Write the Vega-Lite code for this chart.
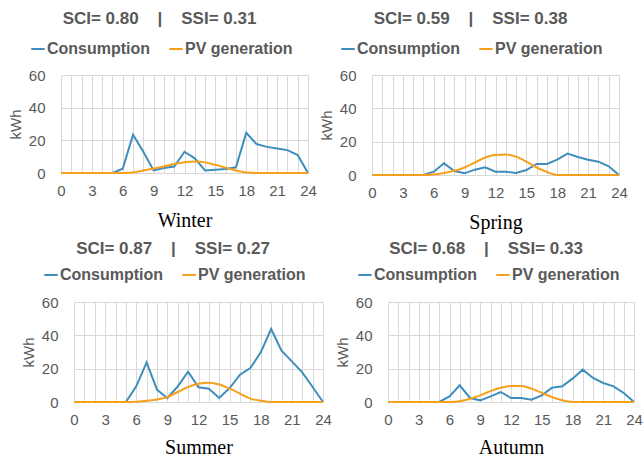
{
  "$schema": "https://vega.github.io/schema/vega-lite/v6.json",
  "background": "white",
  "padding": {"left": 8, "top": 10, "right": 0, "bottom": 0},
  "datasets": {
    "d": [
      {"season":"Winter","hour":0,"Consumption":0,"PV generation":0},
      {"season":"Winter","hour":1,"Consumption":0,"PV generation":0},
      {"season":"Winter","hour":2,"Consumption":0,"PV generation":0},
      {"season":"Winter","hour":3,"Consumption":0,"PV generation":0},
      {"season":"Winter","hour":4,"Consumption":0,"PV generation":0},
      {"season":"Winter","hour":5,"Consumption":0,"PV generation":0},
      {"season":"Winter","hour":6,"Consumption":2.6,"PV generation":0},
      {"season":"Winter","hour":7,"Consumption":23.4,"PV generation":0.3},
      {"season":"Winter","hour":8,"Consumption":13,"PV generation":1.5},
      {"season":"Winter","hour":9,"Consumption":1.6,"PV generation":2.8},
      {"season":"Winter","hour":10,"Consumption":3,"PV generation":4},
      {"season":"Winter","hour":11,"Consumption":4,"PV generation":5.5},
      {"season":"Winter","hour":12,"Consumption":13,"PV generation":6.6},
      {"season":"Winter","hour":13,"Consumption":9,"PV generation":7},
      {"season":"Winter","hour":14,"Consumption":1.5,"PV generation":6.5},
      {"season":"Winter","hour":15,"Consumption":2,"PV generation":5},
      {"season":"Winter","hour":16,"Consumption":2.5,"PV generation":3.3},
      {"season":"Winter","hour":17,"Consumption":3.5,"PV generation":1.5},
      {"season":"Winter","hour":18,"Consumption":24.6,"PV generation":0.3},
      {"season":"Winter","hour":19,"Consumption":17.7,"PV generation":0},
      {"season":"Winter","hour":20,"Consumption":16,"PV generation":0},
      {"season":"Winter","hour":21,"Consumption":15,"PV generation":0},
      {"season":"Winter","hour":22,"Consumption":14,"PV generation":0},
      {"season":"Winter","hour":23,"Consumption":11,"PV generation":0},
      {"season":"Winter","hour":24,"Consumption":0,"PV generation":0},
      {"season":"Spring","hour":0,"Consumption":0,"PV generation":0},
      {"season":"Spring","hour":1,"Consumption":0,"PV generation":0},
      {"season":"Spring","hour":2,"Consumption":0,"PV generation":0},
      {"season":"Spring","hour":3,"Consumption":0,"PV generation":0},
      {"season":"Spring","hour":4,"Consumption":0,"PV generation":0},
      {"season":"Spring","hour":5,"Consumption":0,"PV generation":0},
      {"season":"Spring","hour":6,"Consumption":2,"PV generation":0.3},
      {"season":"Spring","hour":7,"Consumption":7,"PV generation":1.2},
      {"season":"Spring","hour":8,"Consumption":2.4,"PV generation":2.5},
      {"season":"Spring","hour":9,"Consumption":1,"PV generation":4.5},
      {"season":"Spring","hour":10,"Consumption":3.2,"PV generation":7.5},
      {"season":"Spring","hour":11,"Consumption":4.6,"PV generation":10.5},
      {"season":"Spring","hour":12,"Consumption":2,"PV generation":12},
      {"season":"Spring","hour":13,"Consumption":2,"PV generation":12.3},
      {"season":"Spring","hour":14,"Consumption":1.2,"PV generation":11},
      {"season":"Spring","hour":15,"Consumption":3,"PV generation":8},
      {"season":"Spring","hour":16,"Consumption":6.6,"PV generation":4.5},
      {"season":"Spring","hour":17,"Consumption":6.6,"PV generation":1.8},
      {"season":"Spring","hour":18,"Consumption":9.2,"PV generation":0},
      {"season":"Spring","hour":19,"Consumption":12.8,"PV generation":0},
      {"season":"Spring","hour":20,"Consumption":10.8,"PV generation":0},
      {"season":"Spring","hour":21,"Consumption":9.2,"PV generation":0},
      {"season":"Spring","hour":22,"Consumption":8,"PV generation":0},
      {"season":"Spring","hour":23,"Consumption":5.2,"PV generation":0},
      {"season":"Spring","hour":24,"Consumption":0,"PV generation":0},
      {"season":"Summer","hour":0,"Consumption":0,"PV generation":0},
      {"season":"Summer","hour":1,"Consumption":0,"PV generation":0},
      {"season":"Summer","hour":2,"Consumption":0,"PV generation":0},
      {"season":"Summer","hour":3,"Consumption":0,"PV generation":0},
      {"season":"Summer","hour":4,"Consumption":0,"PV generation":0},
      {"season":"Summer","hour":5,"Consumption":0,"PV generation":0},
      {"season":"Summer","hour":6,"Consumption":9.4,"PV generation":0.2},
      {"season":"Summer","hour":7,"Consumption":23.8,"PV generation":0.8},
      {"season":"Summer","hour":8,"Consumption":7.4,"PV generation":1.5},
      {"season":"Summer","hour":9,"Consumption":2.4,"PV generation":3},
      {"season":"Summer","hour":10,"Consumption":9.4,"PV generation":6},
      {"season":"Summer","hour":11,"Consumption":18.2,"PV generation":9},
      {"season":"Summer","hour":12,"Consumption":8.8,"PV generation":11},
      {"season":"Summer","hour":13,"Consumption":8,"PV generation":11.5},
      {"season":"Summer","hour":14,"Consumption":2.4,"PV generation":10.5},
      {"season":"Summer","hour":15,"Consumption":8.4,"PV generation":8},
      {"season":"Summer","hour":16,"Consumption":16.4,"PV generation":5},
      {"season":"Summer","hour":17,"Consumption":20.4,"PV generation":2},
      {"season":"Summer","hour":18,"Consumption":29.8,"PV generation":0.8},
      {"season":"Summer","hour":19,"Consumption":43.8,"PV generation":0},
      {"season":"Summer","hour":20,"Consumption":30.8,"PV generation":0},
      {"season":"Summer","hour":21,"Consumption":24.4,"PV generation":0},
      {"season":"Summer","hour":22,"Consumption":17.8,"PV generation":0},
      {"season":"Summer","hour":23,"Consumption":9,"PV generation":0},
      {"season":"Summer","hour":24,"Consumption":0,"PV generation":0},
      {"season":"Autumn","hour":0,"Consumption":0,"PV generation":0},
      {"season":"Autumn","hour":1,"Consumption":0,"PV generation":0},
      {"season":"Autumn","hour":2,"Consumption":0,"PV generation":0},
      {"season":"Autumn","hour":3,"Consumption":0,"PV generation":0},
      {"season":"Autumn","hour":4,"Consumption":0,"PV generation":0},
      {"season":"Autumn","hour":5,"Consumption":0,"PV generation":0},
      {"season":"Autumn","hour":6,"Consumption":3.4,"PV generation":0},
      {"season":"Autumn","hour":7,"Consumption":10,"PV generation":0.5},
      {"season":"Autumn","hour":8,"Consumption":2.4,"PV generation":2},
      {"season":"Autumn","hour":9,"Consumption":1,"PV generation":4},
      {"season":"Autumn","hour":10,"Consumption":3.4,"PV generation":6.5},
      {"season":"Autumn","hour":11,"Consumption":6,"PV generation":8.5},
      {"season":"Autumn","hour":12,"Consumption":2.4,"PV generation":9.6},
      {"season":"Autumn","hour":13,"Consumption":2.4,"PV generation":9.6},
      {"season":"Autumn","hour":14,"Consumption":1.4,"PV generation":8},
      {"season":"Autumn","hour":15,"Consumption":4,"PV generation":5.5},
      {"season":"Autumn","hour":16,"Consumption":8.6,"PV generation":3},
      {"season":"Autumn","hour":17,"Consumption":9.4,"PV generation":1},
      {"season":"Autumn","hour":18,"Consumption":14,"PV generation":0},
      {"season":"Autumn","hour":19,"Consumption":19.4,"PV generation":0},
      {"season":"Autumn","hour":20,"Consumption":14.4,"PV generation":0},
      {"season":"Autumn","hour":21,"Consumption":11.4,"PV generation":0},
      {"season":"Autumn","hour":22,"Consumption":9.4,"PV generation":0},
      {"season":"Autumn","hour":23,"Consumption":5.4,"PV generation":0},
      {"season":"Autumn","hour":24,"Consumption":0,"PV generation":0}
    ]
  },
  "spacing": 8,
  "vconcat": [
    {
      "spacing": 2,
      "hconcat": [
        {
          "data": {"name": "d"},
          "transform": [{"filter": "datum.season === 'Winter'"}, {"fold": ["Consumption", "PV generation"], "as": ["series", "kWh"]}],
          "title": {"text": "SCI= 0.80\u00a0\u00a0\u00a0\u00a0|\u00a0\u00a0\u00a0\u00a0SSI= 0.31"},
          "width": 247, "height": 98,
          "encoding": {
            "x": {"field": "hour", "type": "quantitative", "scale": {"domain": [0, 24], "nice": false}, "axis": {"title": "Winter", "values": [0,1,2,3,4,5,6,7,8,9,10,11,12,13,14,15,16,17,18,19,20,21,22,23,24], "labelExpr": "datum.value % 3 === 0 ? datum.label : ''"}},
            "y": {"field": "kWh", "type": "quantitative", "scale": {"domain": [0, 60], "nice": false}, "axis": {"title": "kWh", "values": [0, 20, 40, 60]}},
            "color": {"field": "series", "type": "nominal", "scale": {"domain": ["Consumption", "PV generation"], "range": ["#3f8dbd", "#f6a11e"]}, "legend": {"title": null, "orient": "none", "legendX": -31, "legendY": -34}}
          },
          "layer": [
            {"transform": [{"filter": "datum.series === 'Consumption'"}], "mark": {"type": "line", "strokeWidth": 2}},
            {"transform": [{"filter": "datum.series === 'PV generation'"}], "mark": {"type": "line", "strokeWidth": 2, "interpolate": "monotone"}}
          ]
        },
        {
          "data": {"name": "d"},
          "transform": [{"filter": "datum.season === 'Spring'"}, {"fold": ["Consumption", "PV generation"], "as": ["series", "kWh"]}],
          "title": {"text": "SCI= 0.59\u00a0\u00a0\u00a0\u00a0|\u00a0\u00a0\u00a0\u00a0SSI= 0.38"},
          "width": 247, "height": 100,
          "encoding": {
            "x": {"field": "hour", "type": "quantitative", "scale": {"domain": [0, 24], "nice": false}, "axis": {"title": "Spring", "values": [0,1,2,3,4,5,6,7,8,9,10,11,12,13,14,15,16,17,18,19,20,21,22,23,24], "labelExpr": "datum.value % 3 === 0 ? datum.label : ''"}},
            "y": {"field": "kWh", "type": "quantitative", "scale": {"domain": [0, 60], "nice": false}, "axis": {"title": "kWh", "values": [0, 20, 40, 60]}},
            "color": {"field": "series", "type": "nominal", "scale": {"domain": ["Consumption", "PV generation"], "range": ["#3f8dbd", "#f6a11e"]}, "legend": {"title": null, "orient": "none", "legendX": -32, "legendY": -34}}
          },
          "layer": [
            {"transform": [{"filter": "datum.series === 'Consumption'"}], "mark": {"type": "line", "strokeWidth": 2}},
            {"transform": [{"filter": "datum.series === 'PV generation'"}], "mark": {"type": "line", "strokeWidth": 2, "interpolate": "monotone"}}
          ]
        }
      ],
      "resolve": {"scale": {"color": "independent"}, "legend": {"color": "independent"}}
    },
    {
      "spacing": 3,
      "hconcat": [
        {
          "data": {"name": "d"},
          "transform": [{"filter": "datum.season === 'Summer'"}, {"fold": ["Consumption", "PV generation"], "as": ["series", "kWh"]}],
          "title": {"text": "SCI= 0.87\u00a0\u00a0\u00a0\u00a0|\u00a0\u00a0\u00a0\u00a0SSI= 0.27", "offset": 9, "dx": -19},
          "width": 262, "height": 100,
          "encoding": {
            "x": {"field": "hour", "type": "quantitative", "scale": {"domain": [0, 24], "nice": false, "range": [13, 262]}, "axis": {"title": "Summer", "titlePadding": 10, "values": [0,1,2,3,4,5,6,7,8,9,10,11,12,13,14,15,16,17,18,19,20,21,22,23,24], "labelExpr": "datum.value % 3 === 0 ? datum.label : ''"}},
            "y": {"field": "kWh", "type": "quantitative", "scale": {"domain": [0, 60], "nice": false}, "axis": {"title": "kWh", "values": [0, 20, 40, 60], "offset": -13}},
            "color": {"field": "series", "type": "nominal", "scale": {"domain": ["Consumption", "PV generation"], "range": ["#3f8dbd", "#f6a11e"]}, "legend": {"title": null, "orient": "none", "legendX": -18, "legendY": -35}}
          },
          "layer": [
            {"transform": [{"filter": "datum.series === 'Consumption'"}], "mark": {"type": "line", "strokeWidth": 2}},
            {"transform": [{"filter": "datum.series === 'PV generation'"}], "mark": {"type": "line", "strokeWidth": 2, "interpolate": "monotone"}}
          ]
        },
        {
          "data": {"name": "d"},
          "transform": [{"filter": "datum.season === 'Autumn'"}, {"fold": ["Consumption", "PV generation"], "as": ["series", "kWh"]}],
          "title": {"text": "SCI= 0.68\u00a0\u00a0\u00a0\u00a0|\u00a0\u00a0\u00a0\u00a0SSI= 0.33", "offset": 9},
          "width": 246, "height": 100,
          "encoding": {
            "x": {"field": "hour", "type": "quantitative", "scale": {"domain": [0, 24], "nice": false}, "axis": {"title": "Autumn", "titlePadding": 10, "values": [0,1,2,3,4,5,6,7,8,9,10,11,12,13,14,15,16,17,18,19,20,21,22,23,24], "labelExpr": "datum.value % 3 === 0 ? datum.label : ''"}},
            "y": {"field": "kWh", "type": "quantitative", "scale": {"domain": [0, 60], "nice": false}, "axis": {"title": "kWh", "values": [0, 20, 40, 60]}},
            "color": {"field": "series", "type": "nominal", "scale": {"domain": ["Consumption", "PV generation"], "range": ["#3f8dbd", "#f6a11e"]}, "legend": {"title": null, "orient": "none", "legendX": -31, "legendY": -35}}
          },
          "layer": [
            {"transform": [{"filter": "datum.series === 'Consumption'"}], "mark": {"type": "line", "strokeWidth": 2}},
            {"transform": [{"filter": "datum.series === 'PV generation'"}], "mark": {"type": "line", "strokeWidth": 2, "interpolate": "monotone"}}
          ]
        }
      ],
      "resolve": {"scale": {"color": "independent"}, "legend": {"color": "independent"}}
    }
  ],
  "resolve": {"scale": {"color": "independent"}, "legend": {"color": "independent"}},
  "config": {
    "font": "Liberation Sans",
    "view": {"stroke": null},
    "axis": {"labelColor": "#595959", "labelFontSize": 15, "gridColor": "#d9d9d9", "grid": true, "domain": false, "ticks": false, "labelOverlap": false, "labelBound": false, "labelFlush": false},
    "axisX": {"labelPadding": 10, "titleFont": "Liberation Serif", "titleFontSize": 20, "titleFontWeight": "normal", "titleColor": "#000000", "titlePadding": 12},
    "axisY": {"labelPadding": 16, "titleFontSize": 15, "titleFontWeight": "normal", "titleColor": "#595959", "titlePadding": 5},
    "title": {"fontSize": 17, "color": "#595959", "fontWeight": "bold", "anchor": "middle", "offset": 13, "frame": "group", "dx": -25},
    "legend": {"direction": "horizontal", "symbolType": "stroke", "symbolSize": 180, "symbolStrokeWidth": 2, "labelFontSize": 16, "labelFontWeight": "bold", "labelColor": "#595959", "labelOffset": 1, "columnPadding": 14}
  }
}
